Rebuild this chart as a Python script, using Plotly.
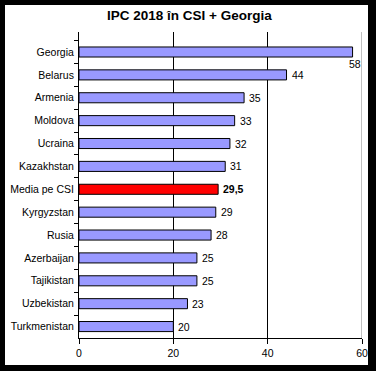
import plotly.graph_objects as go

categories = ["Georgia", "Belarus", "Armenia", "Moldova", "Ucraina", "Kazakhstan",
              "Media pe CSI", "Kyrgyzstan", "Rusia", "Azerbaijan", "Tajikistan",
              "Uzbekistan", "Turkmenistan"]
values = [58, 44, 35, 33, 32, 31, 29.5, 29, 28, 25, 25, 23, 20]
value_labels = ["58", "44", "35", "33", "32", "31", "29,5", "29", "28", "25", "25", "23", "20"]
x_ticks = [0, 20, 40, 60]

colors = ["#FF0000" if c == "Media pe CSI" else "#9999FF" for c in categories]

W, H = 376, 371
ml, mr, mt, mb = 79, 14, 32, 33
pw, ph = W - ml - mr, H - mt - mb
FS = 10.5

fig = go.Figure(go.Bar(
    x=values, y=categories, orientation="h",
    marker=dict(color=colors, line=dict(color="black", width=1)),
    width=0.44, hoverinfo="skip",
))

annotations = []
for c, v, lab in zip(categories, values, value_labels):
    bold = c == "Media pe CSI"
    if v >= 50:
        annotations.append(dict(x=v, y=c, text=lab, showarrow=False, xanchor="center",
                                yanchor="middle", xshift=2, yshift=-12,
                                font=dict(size=FS, color="black", family="Liberation Sans")))
    else:
        annotations.append(dict(x=v, y=c, text=("<b>%s</b>" % lab) if bold else lab,
                                showarrow=False, xanchor="left", yanchor="middle", xshift=3,
                                font=dict(size=FS, color="black", family="Liberation Sans")))
annotations.append(dict(x=0.5, y=1, xref="paper", yref="paper", xshift=(W/2 - (ml + pw/2)) + 1,
                        yshift=17, text="<b>IPC 2018 în CSI + Georgia</b>", showarrow=False,
                        xanchor="center", yanchor="middle",
                        font=dict(size=13.5, color="black", family="Liberation Sans")))

def px2x(p):
    return (p - ml) / pw

def py2y(p):
    return (H - mb - p) / ph

fig.update_layout(
    width=W, height=H,
    margin=dict(l=ml, r=mr, t=mt, b=mb, pad=0, autoexpand=False),
    paper_bgcolor="black", plot_bgcolor="white",
    showlegend=False,
    font=dict(family="Liberation Sans", size=FS, color="black"),
    annotations=annotations,
    shapes=[dict(type="rect", xref="paper", yref="paper", layer="below",
                 x0=px2x(5), x1=px2x(368), y0=py2y(365), y1=py2y(5),
                 fillcolor="white", line=dict(width=0)),
            dict(type="line", xref="x", yref="paper", layer="above",
                 x0=x_ticks[-1], x1=x_ticks[-1], y0=0, y1=1,
                 line=dict(color="#808080", width=1))],
    bargap=0.56,
)
fig.update_xaxes(range=[0, 60], tickvals=x_ticks, showgrid=True, gridcolor="black",
                 gridwidth=1, zeroline=False, showline=True, linecolor="black", linewidth=1,
                 ticks="outside", ticklen=5, tickcolor="black", automargin=False,
                 tickfont=dict(size=FS, family="Liberation Sans"))
fig.update_yaxes(autorange="reversed", showgrid=False, showline=True, linecolor="black",
                 linewidth=1, ticks="outside", ticklen=4, tickcolor="black",
                 tickson="boundaries", ticklabelstandoff=2, automargin=False,
                 tickfont=dict(size=FS, family="Liberation Sans"))

fig.write_html("out.html", config={"displayModeBar": False},
               post_script="document.body.style.margin='0';document.body.style.overflow='hidden';")
